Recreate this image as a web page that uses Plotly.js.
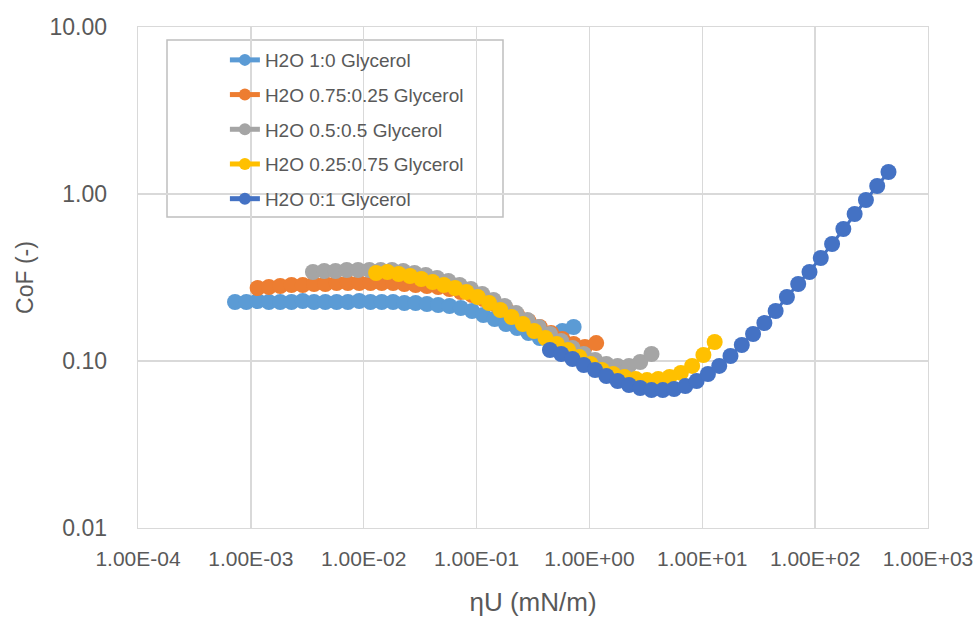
<!DOCTYPE html>
<html>
<head>
<meta charset="utf-8">
<script src="https://cdn.plot.ly/plotly-3.0.1.min.js"></script>
<style>html,body{margin:0;padding:0;background:#fff;}#chart{width:975px;height:617px;}</style>
</head>
<body>
<div id="chart"></div>
<script>
// ---- data ----
const seriesNames = ["H2O 1:0 Glycerol", "H2O 0.75:0.25 Glycerol", "H2O 0.5:0.5 Glycerol", "H2O 0.25:0.75 Glycerol", "H2O 0:1 Glycerol"];

const x_w100 = [0.000724,0.000912,0.001148,0.001445,0.001820,0.002291,0.002884,0.003631,0.004571,0.005754,0.007244,0.009120,0.01148,0.01445,0.01820,0.02291,0.02884,0.03631,0.04571,0.05754,0.07244,0.09120,0.1148,0.1445,0.1820,0.2291,0.2884,0.3631,0.4571,0.5754,0.7244];
const y_w100 = [0.2256,0.2256,0.2288,0.2256,0.2256,0.2256,0.2288,0.2256,0.2256,0.2256,0.2256,0.2288,0.2256,0.2256,0.2256,0.2225,0.2225,0.2195,0.2165,0.2135,0.2077,0.1993,0.1886,0.1784,0.1665,0.1576,0.1471,0.1373,0.1300,0.1512,0.1598];

const x_w75 = [0.001148,0.001445,0.001820,0.002291,0.002884,0.003631,0.004571,0.005754,0.007244,0.009120,0.01148,0.01445,0.01820,0.02291,0.02884,0.03631,0.04571,0.05754,0.07244,0.09120,0.1148,0.1445,0.1820,0.2291,0.2884,0.3631,0.4571,0.5754,0.7244,0.9120,1.148];
const y_w75 = [0.2736,0.2774,0.2812,0.2851,0.2851,0.2891,0.2891,0.2931,0.2931,0.2931,0.2931,0.2931,0.2931,0.2891,0.2851,0.2812,0.2774,0.2698,0.2589,0.2484,0.2351,0.2195,0.2048,0.1886,0.1736,0.1598,0.1471,0.1354,0.1264,0.1213,0.1281];

const x_w50 = [0.003548,0.004467,0.005623,0.007079,0.008913,0.01122,0.01413,0.01778,0.02239,0.02818,0.03548,0.04467,0.05623,0.07079,0.08913,0.1122,0.1413,0.1778,0.2239,0.2818,0.3548,0.4467,0.5623,0.7079,0.8913,1.122,1.413,1.778,2.239,2.818,3.548];
const y_w50 = [0.3411,0.3458,0.3458,0.3506,0.3506,0.3506,0.3506,0.3506,0.3458,0.3364,0.3273,0.3141,0.3013,0.2851,0.2698,0.2519,0.2319,0.2135,0.1938,0.1760,0.1598,0.1451,0.1317,0.1197,0.1101,0.1014,0.0960,0.0934,0.0934,0.0986,0.1101];

const x_w25 = [0.01288,0.01622,0.02042,0.02570,0.03236,0.04074,0.05129,0.06457,0.08128,0.1023,0.1288,0.1622,0.2042,0.2570,0.3236,0.4074,0.5129,0.6457,0.8128,1.023,1.288,1.622,2.042,2.570,3.236,4.074,5.129,6.457,8.128,10.23,12.88];
const y_w25 = [0.3364,0.3411,0.3319,0.3228,0.3097,0.2972,0.2851,0.2736,0.2589,0.2416,0.2225,0.2020,0.1834,0.1665,0.1512,0.1373,0.1264,0.1164,0.1057,0.0960,0.0883,0.0836,0.0802,0.0780,0.0769,0.0780,0.0802,0.0848,0.0934,0.1086,0.1300];

const x_w0 = [0.4467,0.5623,0.7079,0.8913,1.122,1.413,1.778,2.239,2.818,3.548,4.467,5.623,7.079,8.913,11.22,14.13,17.78,22.39,28.18,35.48,44.67,56.23,70.79,89.13,112.2,141.3,177.8,223.9,281.8,354.8,446.7];
const y_w0 = [0.1164,0.1101,0.1028,0.0946,0.0883,0.0813,0.0759,0.0718,0.0689,0.0670,0.0670,0.0680,0.0708,0.0759,0.0836,0.0934,0.1071,0.1247,0.1451,0.1688,0.1993,0.2416,0.2891,0.3411,0.4138,0.5020,0.6173,0.7589,0.9206,1.1167,1.3544];

const xTickVals = [1e-4,1e-3,1e-2,1e-1,1e0,1e1,1e2,1e3];
const xTickText = ["1.00E-04","1.00E-03","1.00E-02","1.00E-01","1.00E+00","1.00E+01","1.00E+02","1.00E+03"];
const yTickVals = [0.01,0.1,1,10];
const yTickText = ["0.01","0.10","1.00","10.00"];

const xTitle = "ηU (mN/m)";
const yTitle = "CoF (-)";

// ---- styling ----
const colors = ["#5B9BD5","#ED7D31","#A5A5A5","#FFC000","#4472C4"];
const xs = [x_w100, x_w75, x_w50, x_w25, x_w0];
const ys = [y_w100, y_w75, y_w50, y_w25, y_w0];
const FONT = "'Liberation Sans', Arial, sans-serif";
const TXT = "#595959";
const GRID = "#d9d9d9";

const traces = xs.map((x, i) => ({
  type: "scatter",
  mode: "lines+markers",
  name: seriesNames[i],
  legendgroup: "g" + i,
  x: x, y: ys[i],
  line: {color: colors[i], width: 3},
  marker: {color: colors[i], size: 16},
  hoverinfo: "x+y+name"
}));

const layout = {
  width: 975, height: 617,
  margin: {l: 138, r: 47, t: 27, b: 89, pad: 0},
  paper_bgcolor: "#ffffff", plot_bgcolor: "#ffffff",
  font: {family: FONT, color: TXT},
  showlegend: true,
  legend: {
    x: 0.11, y: 0.972, xanchor: "left", yanchor: "top",
    bgcolor: "rgba(0,0,0,0)", borderwidth: 0,
    font: {family: FONT, size: 19, color: TXT},
    tracegroupgap: 7, traceorder: "grouped", itemsizing: "constant"
  },
  xaxis: {
    type: "log", range: [-4, 3], autorange: false,
    tickmode: "array", tickvals: xTickVals, ticktext: xTickText,
    tickfont: {family: FONT, size: 21, color: TXT},
    showgrid: true, gridcolor: GRID, gridwidth: 1.3,
    showline: true, mirror: true, linecolor: GRID, linewidth: 1.3,
    ticks: "", ticklabelstandoff: 11, zeroline: false,
    title: {text: xTitle, font: {family: FONT, size: 26, color: TXT}, standoff: 24},
    automargin: false
  },
  yaxis: {
    type: "log", range: [-2, 1], autorange: false,
    tickmode: "array", tickvals: yTickVals, ticktext: yTickText,
    tickfont: {family: FONT, size: 23, color: TXT},
    showgrid: true, gridcolor: GRID, gridwidth: 1.3,
    showline: true, mirror: true, linecolor: GRID, linewidth: 1.3,
    ticks: "", ticklabelstandoff: 25, zeroline: false,
    title: {text: yTitle, font: {family: FONT, size: 23, color: TXT}, standoff: 9},
    automargin: false
  },
  shapes: [{
    type: "rect", xref: "paper", yref: "paper",
    x0: (167 - 138) / 790, x1: (503 - 138) / 790,
    y0: (528 - 217) / 501, y1: (528 - 40) / 501,
    line: {color: "#bfbfbf", width: 1.5}, fillcolor: "#ffffff", layer: "below"
  }]
};

Plotly.newPlot("chart", traces, layout, {staticPlot: true, displayModeBar: false});
</script>
</body>
</html>
